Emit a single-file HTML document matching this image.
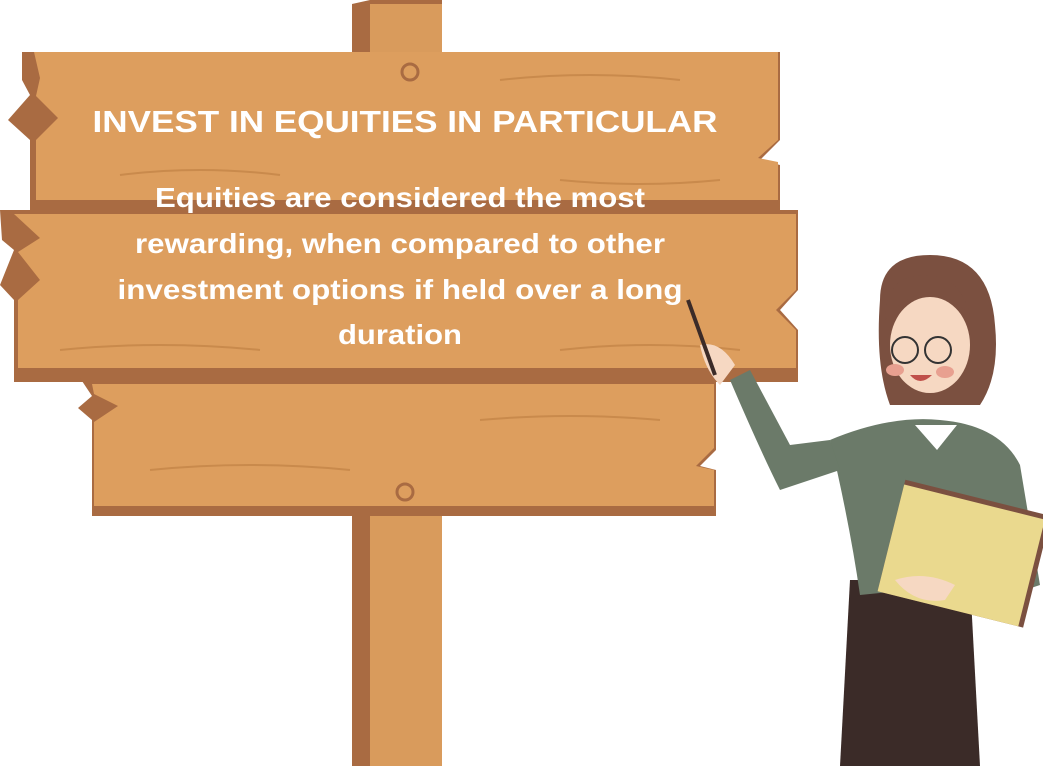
<!DOCTYPE html>
<html><head><meta charset="utf-8"><style>
html,body{margin:0;padding:0;background:#fff;}
svg{display:block}
text{font-family:"Liberation Sans",sans-serif;font-weight:bold;fill:#fff;text-anchor:middle}
</style></head><body>
<svg width="1043" height="766" viewBox="0 0 1043 766">
 <g>
  <rect x="352" y="4" width="90" height="762" fill="#d99b5c"/>
  <rect x="352" y="4" width="18" height="762" fill="#a96b42"/>
  <polygon points="352,4 370,0 442,0 442,4" fill="#a96b42"/>
 </g>
 <g>
  <polygon points="22,52 780,52 780,140 760,160 780,165 780,212 30,212 30,140 8,120 30,95 22,80" fill="#a96b42"/>
  <polygon points="34,52 778,52 778,140 758,158 778,162 778,200 36,200 36,140 58,118 36,96 40,78" fill="#dd9e5e"/>
  <path d="M120,175 q80,-10 160,0 M500,80 q90,-10 180,0 M560,180 q80,8 160,0" stroke="#c98a4c" stroke-width="2" fill="none"/>
  <circle cx="410" cy="72" r="8" fill="none" stroke="#a96b42" stroke-width="3"/>
 </g>
 <g>
  <polygon points="0,210 798,210 798,290 780,310 798,330 798,382 14,382 14,300 0,285 14,250 2,240" fill="#a96b42"/>
  <polygon points="14,214 796,214 796,290 776,310 796,330 796,368 18,368 18,300 40,280 18,252 40,238" fill="#dd9e5e"/>
  <path d="M60,350 q100,-10 200,0 M560,350 q90,-10 180,0" stroke="#c98a4c" stroke-width="2" fill="none"/>
 </g>
 <g>
  <polygon points="80,378 716,378 716,450 700,466 716,470 716,516 92,516 92,420 78,408 92,396" fill="#a96b42"/>
  <polygon points="92,384 714,384 714,448 696,466 714,470 714,506 94,506 94,422 118,406 94,394" fill="#dd9e5e"/>
  <path d="M150,470 q100,-10 200,0 M480,420 q90,-8 180,0" stroke="#c98a4c" stroke-width="2" fill="none"/>
  <circle cx="405" cy="492" r="8" fill="none" stroke="#a96b42" stroke-width="3"/>
 </g>
 <text x="405" y="132" font-size="31" textLength="625" lengthAdjust="spacingAndGlyphs">INVEST IN EQUITIES IN PARTICULAR</text>
 <g font-size="28">
  <text x="400" y="207" textLength="490" lengthAdjust="spacingAndGlyphs">Equities are considered the most</text>
  <text x="400" y="253" textLength="530" lengthAdjust="spacingAndGlyphs">rewarding, when compared to other</text>
  <text x="400" y="299" textLength="565" lengthAdjust="spacingAndGlyphs">investment options if held over a long</text>
  <text x="400" y="344" textLength="124" lengthAdjust="spacingAndGlyphs">duration</text>
 </g>
 <g>
  <path d="M880,300 q0,-45 50,-45 q60,0 65,70 q5,50 -15,80 l-90,0 q-15,-40 -10,-105z" fill="#7b5040"/>
  <path d="M850,580 l120,0 l10,186 l-140,0z" fill="#3b2b28"/>
  <path d="M830,440 q60,-25 110,-20 q60,5 80,45 l20,120 l-60,20 l-20,-20 l-100,10 q-10,-70 -30,-155z" fill="#6b7a69"/>
  <path d="M730,380 q30,70 50,110 l60,-20 l-10,-30 l-40,5 l-40,-75z" fill="#6b7a69"/>
  <path d="M915,425 l22,25 l20,-25z" fill="#fff"/>
  <ellipse cx="930" cy="345" rx="40" ry="48" fill="#f6d8c2"/>
  <path d="M885,320 q40,-50 85,-5 q-10,-40 -45,-40 q-40,0 -40,45z" fill="#7b5040"/>
  <circle cx="905" cy="350" r="13" fill="none" stroke="#333" stroke-width="2"/>
  <circle cx="938" cy="350" r="13" fill="none" stroke="#333" stroke-width="2"/>
  <ellipse cx="895" cy="370" rx="9" ry="6" fill="#e8a090"/>
  <ellipse cx="945" cy="372" rx="9" ry="6" fill="#e8a090"/>
  <path d="M910,375 q10,12 22,0z" fill="#c0504a"/>
  <path d="M700,345 q20,-5 35,20 l-15,20 q-15,-15 -20,-40z" fill="#f6d8c2"/>
  <line x1="688" y1="300" x2="715" y2="375" stroke="#3b2b28" stroke-width="4"/>
  <g transform="rotate(14 960 550)">
   <rect x="890" y="495" width="150" height="115" fill="#7b5040"/>
   <rect x="890" y="500" width="145" height="110" fill="#ead98e"/>
  </g>
  <path d="M895,580 q30,-10 60,5 l-10,15 q-30,5 -50,-20z" fill="#f6d8c2"/>
 </g>
</svg>
</body></html>
